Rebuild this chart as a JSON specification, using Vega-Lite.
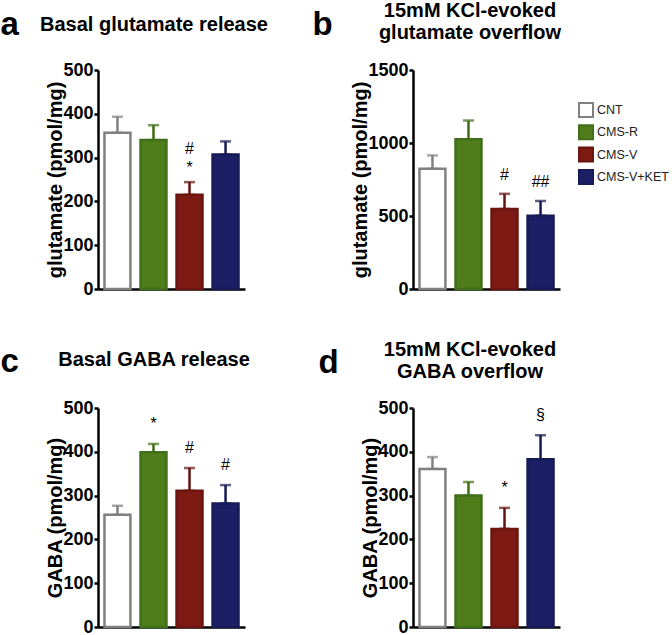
{
  "$schema": "https://vega.github.io/schema/vega-lite/v6.json",
  "padding": {"left": 0, "top": 0, "right": 0, "bottom": 0},
  "autosize": {"type": "pad"},
  "background": "white",
  "bounds": "flush",
  "columns": 2,
  "spacing": {"row": 119, "column": 168},
  "data": {
    "values": [
      {"panel": "a", "group": "CNT", "mean": 357, "hi": 393, "sig": "", "sig2": ""},
      {"panel": "a", "group": "CMS-R", "mean": 340, "hi": 374, "sig": "", "sig2": ""},
      {"panel": "a", "group": "CMS-V", "mean": 215, "hi": 244, "sig": "*", "sig2": "#"},
      {"panel": "a", "group": "CMS-V+KET", "mean": 307, "hi": 337, "sig": "", "sig2": ""},
      {"panel": "b", "group": "CNT", "mean": 823, "hi": 915, "sig": "", "sig2": ""},
      {"panel": "b", "group": "CMS-R", "mean": 1025, "hi": 1154, "sig": "", "sig2": ""},
      {"panel": "b", "group": "CMS-V", "mean": 548, "hi": 652, "sig": "#", "sig2": ""},
      {"panel": "b", "group": "CMS-V+KET", "mean": 502, "hi": 603, "sig": "##", "sig2": ""},
      {"panel": "c", "group": "CNT", "mean": 256, "hi": 277, "sig": "", "sig2": ""},
      {"panel": "c", "group": "CMS-R", "mean": 399, "hi": 418, "sig": "*", "sig2": ""},
      {"panel": "c", "group": "CMS-V", "mean": 311, "hi": 363, "sig": "#", "sig2": ""},
      {"panel": "c", "group": "CMS-V+KET", "mean": 282, "hi": 324, "sig": "#", "sig2": ""},
      {"panel": "d", "group": "CNT", "mean": 361, "hi": 388, "sig": "", "sig2": ""},
      {"panel": "d", "group": "CMS-R", "mean": 300, "hi": 331, "sig": "", "sig2": ""},
      {"panel": "d", "group": "CMS-V", "mean": 224, "hi": 272, "sig": "*", "sig2": ""},
      {"panel": "d", "group": "CMS-V+KET", "mean": 383, "hi": 438, "sig": "§", "sig2": ""}
    ]
  },
  "resolve": {"legend": {"fill": "independent", "stroke": "independent"}},
  "concat": [
    {
      "width": 147, "height": 219,
      "transform": [{"filter": "datum.panel === 'a'"}],
      "title": {"text": "Basal glutamate release", "dx": -17.5, "dy": 31},
      "encoding": {
        "x": {"field": "group", "type": "nominal", "sort": ["CNT", "CMS-R", "CMS-V", "CMS-V+KET"],
              "scale": {"paddingInner": 0.28, "paddingOuter": 0.18},
              "axis": {"title": "a", "titleX": -98, "titleY": -255}}
      },
      "layer": [
        {"mark": {"type": "errorbar", "thickness": 2.5, "ticks": {"size": 11}, "rule": {"strokeWidth": 2.5}},
         "encoding": {
           "y": {"field": "mean", "type": "quantitative", "title": "glutamate (pmol/mg)", "scale": {"domain": [0, 500], "nice": false},
                 "axis": {"values": [0, 100, 200, 300, 400, 500], "format": "d", "labelFontSize": 18, "labelFontWeight": "bold", "labelPadding": 1, "tickSize": 4, "titleFontSize": 20, "titleFontWeight": "bold", "titlePadding": -3}},
           "y2": {"field": "hi"},
           "color": {"field": "group", "type": "nominal", "legend": null,
                     "scale": {"domain": ["CNT", "CMS-R", "CMS-V", "CMS-V+KET"], "range": ["#808080", "#3f6d14", "#661310", "#161a50"]}}
         }},
        {"mark": {"type": "bar", "strokeWidth": 2.5},
         "encoding": {
           "y": {"field": "mean", "type": "quantitative", "title": "glutamate (pmol/mg)"},
           "fill": {"field": "group", "type": "nominal", "legend": null,
                    "scale": {"domain": ["CNT", "CMS-R", "CMS-V", "CMS-V+KET"], "range": ["#ffffff", "#4f7d1a", "#7d1a14", "#1c1f66"]}},
           "stroke": {"field": "group", "type": "nominal", "legend": null,
                      "scale": {"domain": ["CNT", "CMS-R", "CMS-V", "CMS-V+KET"], "range": ["#808080", "#41701a", "#6a1510", "#171b55"]}}
         }},
        {"mark": {"type": "text", "baseline": "alphabetic", "dy": -9, "fontSize": 16, "color": "black"},
         "encoding": {
           "y": {"field": "hi", "type": "quantitative", "title": "glutamate (pmol/mg)"},
           "text": {"field": "sig"}
         }},
        {"mark": {"type": "text", "baseline": "alphabetic", "dy": -28, "fontSize": 16, "color": "black"},
         "encoding": {
           "y": {"field": "hi", "type": "quantitative", "title": "glutamate (pmol/mg)"},
           "text": {"field": "sig2"}
         }}
      ]
    },
    {
      "width": 147, "height": 219,
      "transform": [{"filter": "datum.panel === 'b'"}],
      "title": {"text": ["15mM KCl-evoked", "glutamate overflow"], "dx": -16.5, "dy": 39},
      "encoding": {
        "x": {"field": "group", "type": "nominal", "sort": ["CNT", "CMS-R", "CMS-V", "CMS-V+KET"],
              "scale": {"paddingInner": 0.28, "paddingOuter": 0.18},
              "axis": {"title": "b", "titleX": -101, "titleY": -255}}
      },
      "layer": [
        {"mark": {"type": "errorbar", "thickness": 2.5, "ticks": {"size": 11}, "rule": {"strokeWidth": 2.5}},
         "encoding": {
           "y": {"field": "mean", "type": "quantitative", "title": "glutamate (pmol/mg)", "scale": {"domain": [0, 1500], "nice": false},
                 "axis": {"values": [0, 250, 500, 750, 1000, 1250, 1500], "format": "d", "labelFontSize": 18, "labelFontWeight": "bold", "labelPadding": 1, "tickSize": 4, "titleFontSize": 20, "titleFontWeight": "bold", "titlePadding": -3}},
           "y2": {"field": "hi"},
           "color": {"field": "group", "type": "nominal", "legend": null,
                     "scale": {"domain": ["CNT", "CMS-R", "CMS-V", "CMS-V+KET"], "range": ["#808080", "#3f6d14", "#661310", "#161a50"]}}
         }},
        {"mark": {"type": "bar", "strokeWidth": 2.5},
         "encoding": {
           "y": {"field": "mean", "type": "quantitative", "title": "glutamate (pmol/mg)"},
           "fill": {"field": "group", "type": "nominal",
                    "scale": {"domain": ["CNT", "CMS-R", "CMS-V", "CMS-V+KET"], "range": ["#ffffff", "#4f7d1a", "#7d1a14", "#1c1f66"]},
                    "legend": {"title": null, "orient": "none", "legendX": 165, "legendY": 32, "padding": 0,
                               "symbolType": "square", "symbolSize": 196, "symbolStrokeWidth": 2,
                               "labelFont": "Liberation Sans", "labelFontSize": 12.5, "labelColor": "#222222", "labelOffset": 3, "rowPadding": 0.3}},
           "stroke": {"field": "group", "type": "nominal",
                      "scale": {"domain": ["CNT", "CMS-R", "CMS-V", "CMS-V+KET"], "range": ["#808080", "#41701a", "#6a1510", "#171b55"]},
                      "legend": {"title": null, "orient": "none", "legendX": 165, "legendY": 32, "padding": 0,
                               "symbolType": "square", "symbolSize": 196, "symbolStrokeWidth": 2,
                               "labelFont": "Liberation Sans", "labelFontSize": 12.5, "labelColor": "#222222", "labelOffset": 3, "rowPadding": 0.3}}
         }},
        {"mark": {"type": "text", "baseline": "alphabetic", "dy": -14, "fontSize": 16, "color": "black"},
         "encoding": {
           "y": {"field": "hi", "type": "quantitative", "title": "glutamate (pmol/mg)"},
           "text": {"field": "sig"}
         }}
      ]
    },
    {
      "width": 147, "height": 219,
      "transform": [{"filter": "datum.panel === 'c'"}],
      "title": {"text": "Basal GABA release", "dx": -17.5, "dy": 29},
      "encoding": {
        "x": {"field": "group", "type": "nominal", "sort": ["CNT", "CMS-R", "CMS-V", "CMS-V+KET"],
              "scale": {"paddingInner": 0.28, "paddingOuter": 0.18},
              "axis": {"title": "c", "titleX": -98, "titleY": -256}}
      },
      "layer": [
        {"mark": {"type": "errorbar", "thickness": 2.5, "ticks": {"size": 11}, "rule": {"strokeWidth": 2.5}},
         "encoding": {
           "y": {"field": "mean", "type": "quantitative", "title": "GABA (pmol/mg)", "scale": {"domain": [0, 500], "nice": false},
                 "axis": {"values": [0, 100, 200, 300, 400, 500], "format": "d", "labelFontSize": 18, "labelFontWeight": "bold", "labelPadding": 1, "tickSize": 4, "titleFontSize": 20, "titleFontWeight": "bold", "titlePadding": -3}},
           "y2": {"field": "hi"},
           "color": {"field": "group", "type": "nominal", "legend": null,
                     "scale": {"domain": ["CNT", "CMS-R", "CMS-V", "CMS-V+KET"], "range": ["#808080", "#3f6d14", "#661310", "#161a50"]}}
         }},
        {"mark": {"type": "bar", "strokeWidth": 2.5},
         "encoding": {
           "y": {"field": "mean", "type": "quantitative", "title": "GABA (pmol/mg)"},
           "fill": {"field": "group", "type": "nominal", "legend": null,
                    "scale": {"domain": ["CNT", "CMS-R", "CMS-V", "CMS-V+KET"], "range": ["#ffffff", "#4f7d1a", "#7d1a14", "#1c1f66"]}},
           "stroke": {"field": "group", "type": "nominal", "legend": null,
                      "scale": {"domain": ["CNT", "CMS-R", "CMS-V", "CMS-V+KET"], "range": ["#808080", "#41701a", "#6a1510", "#171b55"]}}
         }},
        {"mark": {"type": "text", "baseline": "alphabetic", "dy": -15, "fontSize": 16, "color": "black"},
         "encoding": {
           "y": {"field": "hi", "type": "quantitative", "title": "GABA (pmol/mg)"},
           "text": {"field": "sig"}
         }}
      ]
    },
    {
      "width": 147, "height": 219,
      "transform": [{"filter": "datum.panel === 'd'"}],
      "title": {"text": ["15mM KCl-evoked", "GABA overflow"], "dx": -16.5, "dy": 40},
      "encoding": {
        "x": {"field": "group", "type": "nominal", "sort": ["CNT", "CMS-R", "CMS-V", "CMS-V+KET"],
              "scale": {"paddingInner": 0.28, "paddingOuter": 0.18},
              "axis": {"title": "d", "titleX": -95, "titleY": -255}}
      },
      "layer": [
        {"mark": {"type": "errorbar", "thickness": 2.5, "ticks": {"size": 11}, "rule": {"strokeWidth": 2.5}},
         "encoding": {
           "y": {"field": "mean", "type": "quantitative", "title": "GABA (pmol/mg)", "scale": {"domain": [0, 500], "nice": false},
                 "axis": {"values": [0, 100, 200, 300, 400, 500], "format": "d", "labelFontSize": 18, "labelFontWeight": "bold", "labelPadding": 1, "tickSize": 4, "titleFontSize": 20, "titleFontWeight": "bold", "titlePadding": -3}},
           "y2": {"field": "hi"},
           "color": {"field": "group", "type": "nominal", "legend": null,
                     "scale": {"domain": ["CNT", "CMS-R", "CMS-V", "CMS-V+KET"], "range": ["#808080", "#3f6d14", "#661310", "#161a50"]}}
         }},
        {"mark": {"type": "bar", "strokeWidth": 2.5},
         "encoding": {
           "y": {"field": "mean", "type": "quantitative", "title": "GABA (pmol/mg)"},
           "fill": {"field": "group", "type": "nominal", "legend": null,
                    "scale": {"domain": ["CNT", "CMS-R", "CMS-V", "CMS-V+KET"], "range": ["#ffffff", "#4f7d1a", "#7d1a14", "#1c1f66"]}},
           "stroke": {"field": "group", "type": "nominal", "legend": null,
                      "scale": {"domain": ["CNT", "CMS-R", "CMS-V", "CMS-V+KET"], "range": ["#808080", "#41701a", "#6a1510", "#171b55"]}}
         }},
        {"mark": {"type": "text", "baseline": "alphabetic", "dy": -15, "fontSize": 16, "color": "black"},
         "encoding": {
           "y": {"field": "hi", "type": "quantitative", "title": "GABA (pmol/mg)"},
           "text": {"field": "sig"}
         }}
      ]
    }
  ],
  "config": {
    "font": "Liberation Sans",
    "view": {"stroke": null},
    "title": {"font": "Liberation Sans", "fontSize": 20, "fontWeight": "bold", "color": "black", "anchor": "middle", "frame": "group", "baseline": "alphabetic", "offset": 0, "lineHeight": 22.5},
    "axis": {"domainColor": "black", "domainWidth": 2.5, "tickColor": "black", "tickWidth": 2.5, "grid": false,
             "labelFont": "Liberation Sans", "titleFont": "Liberation Sans", "labelColor": "black", "titleColor": "black"},
    "axisX": {"labels": false, "ticks": false, "titleFontSize": 33, "titleFontWeight": "bold", "titleAlign": "left", "titleBaseline": "alphabetic", "titleAngle": 0}
  }
}
